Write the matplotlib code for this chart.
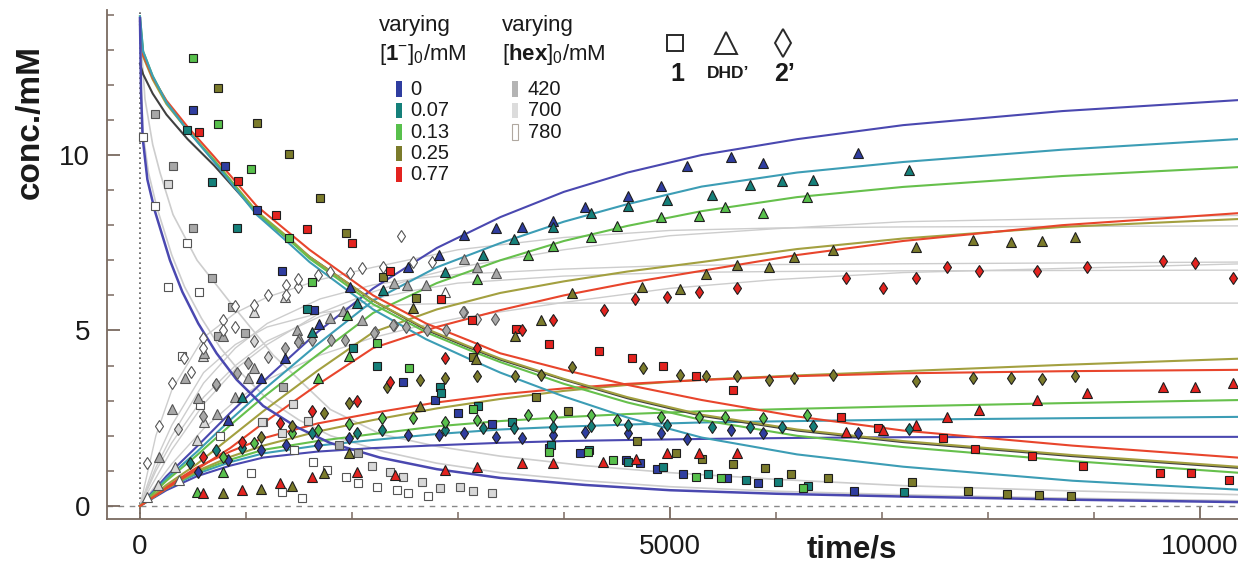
import numpy as np
import matplotlib.pyplot as plt
from matplotlib.lines import Line2D
from matplotlib.patches import Rectangle

plt.rcParams['font.family'] = ['Liberation Sans', 'DejaVu Sans']
plt.rcParams['mathtext.fontset'] = 'custom'
plt.rcParams['mathtext.rm'] = 'Liberation Sans'
plt.rcParams['mathtext.bf'] = 'Liberation Sans:bold'

# ---- data: (time / s, conc / mM) ----
# species 1 (squares)
sq_blue = [(503, 11.28), (802, 9.69), (1100, 8.43), (1336, 6.7), (1644, 5.58), (2478, 3.54), (2783, 3.02),
           (3003, 2.64), (3318, 2.34), (3861, 1.64), (4151, 1.50), (4585, 1.31), (4717, 1.23), (4875, 1.05),
           (5119, 0.90), (5541, 0.79), (5833, 0.66), (6736, 0.44)]
sq_teal = [(446, 10.71), (682, 9.23), (918, 7.91), (1572, 5.61), (2006, 4.49), (2239, 3.99), (2830, 3.40),
           (2841, 3.21), (3192, 2.85), (3507, 2.40), (3880, 1.75), (4240, 1.60), (4600, 1.25), (4937, 1.12),
           (5361, 0.91), (5714, 0.74), (6022, 0.69), (6300, 0.57), (7211, 0.39)]
sq_green = [(503, 12.75), (739, 10.88), (1044, 9.59), (1406, 7.64), (1625, 6.37), (2239, 4.64), (2541, 3.92),
            (3139, 2.75), (3861, 1.55), (4224, 1.55), (4465, 1.31), (5245, 0.83), (5478, 0.79), (6258, 0.50)]
sq_olive = [(739, 11.9), (1100, 10.9), (1406, 10.03), (1698, 8.78), (1940, 7.79), (2295, 6.53), (2601, 5.92),
            (3139, 4.24), (3736, 3.11), (4041, 2.71), (4686, 1.86), (5057, 1.52), (5299, 1.33), (5597, 1.19),
            (5896, 1.07), (6138, 0.91), (6494, 0.79), (7280, 0.68), (7815, 0.42), (8176, 0.34), (8481, 0.31),
            (8780, 0.29)]
sq_red = [(560, 10.66), (921, 9.27), (1280, 8.29), (1578, 7.88), (2003, 7.48), (2358, 6.70), (2837, 5.90),
          (3129, 5.30), (3544, 5.03), (3861, 4.61), (4333, 4.42), (4639, 4.21), (4931, 4.0), (5245, 3.70),
          (5597, 3.30), (6610, 2.53), (6965, 2.21), (7578, 1.93), (7877, 1.62), (8418, 1.42), (8893, 1.14),
          (9623, 0.93), (9912, 0.93), (10274, 0.74)]
sq_g420 = [(141, 11.16), (314, 9.69), (503, 7.91), (676, 6.49), (865, 5.68), (991, 4.92), (739, 4.85),
           (1346, 3.40), (1880, 1.74), (2057, 1.50)]
sq_g700 = [(261, 9.17), (1148, 2.40), (1446, 2.91), (1582, 2.43), (1336, 2.07), (2185, 1.14), (2358, 0.98),
           (2478, 0.83), (2658, 0.69), (2830, 0.50), (3019, 0.55), (3145, 0.44), (3318, 0.36)]
sq_g780 = [(25, 10.52), (141, 8.55), (261, 6.23), (446, 7.5), (560, 6.1), (393, 4.27), (566, 2.88),
           (1163, 2.40), (755, 1.99), (1047, 0.95), (1456, 1.60), (1635, 1.26), (1761, 1.03), (1943, 0.83),
           (2059, 0.66), (1336, 0.41), (1525, 0.24), (2239, 0.55), (2422, 0.46), (2528, 0.37), (2717, 0.28)]

# DHD' (triangles)
tri_blue = [(833, 2.45), (1142, 3.66), (1368, 4.21), (1692, 5.19), (1981, 6.25), (2531, 6.82), (2824, 7.15),
            (3059, 7.72), (3356, 7.91), (3601, 7.94), (3893, 8.13), (4198, 8.51), (4607, 8.83), (4915, 9.13),
            (5158, 9.70), (5575, 9.95), (5880, 9.78), (6777, 10.07)]
tri_teal = [(959, 3.11), (1620, 4.97), (2044, 5.78), (2290, 6.15), (2877, 6.68), (3239, 7.15), (3528, 7.61),
            (3893, 7.94), (4252, 8.34), (4607, 8.55), (4969, 8.72), (5399, 8.86), (5755, 9.15), (6060, 9.27),
            (6352, 9.29), (7258, 9.57)]
tri_green = [(535, 0.41), (786, 0.98), (1682, 3.64), (1950, 5.44), (1975, 4.27), (3176, 6.47), (3664, 7.15),
             (3893, 7.41), (4252, 7.66), (4497, 7.98), (4915, 8.23), (5277, 8.26), (5519, 8.53), (5880, 8.34),
             (6295, 8.80)]
tri_olive = [(786, 0.36), (1142, 0.48), (1437, 0.57), (1736, 0.95), (1975, 1.50), (2642, 2.85), (2578, 5.63),
             (3170, 4.18), (3538, 4.84), (3783, 5.30), (4072, 6.06), (4733, 6.25), (5094, 6.19), (5337, 6.61),
             (5629, 6.87), (5937, 6.82), (6170, 7.09), (6535, 7.29), (7318, 7.37), (7856, 7.58), (8217, 7.53),
             (8512, 7.55), (8821, 7.66)]
tri_red = [(597, 0.36), (959, 0.46), (1321, 0.65), (1620, 0.83), (2044, 0.98), (2406, 0.88), (2877, 1.03),
           (3176, 1.12), (3601, 1.23), (3893, 1.23), (4371, 1.26), (4677, 1.33), (4975, 1.52), (5277, 1.52),
           (5635, 1.52), (6657, 2.12), (7012, 2.17), (7318, 2.31), (7616, 2.53), (7915, 2.74), (8460, 3.02),
           (8937, 3.23), (9654, 3.40), (9953, 3.40), (10314, 3.51)]
tri_g420 = [(182, 1.40), (305, 2.75), (425, 3.64), (604, 4.35), (780, 4.84), (544, 3.07), (730, 2.61),
            (896, 3.11), (1022, 3.64), (1078, 3.92), (1478, 5.01), (1503, 4.78), (1792, 5.35), (1918, 5.56),
            (2098, 5.30), (2396, 6.36), (2522, 6.30), (2698, 6.30), (3056, 7.03), (3176, 6.82), (3359, 6.63)]
tri_g700 = [(173, 0.60), (330, 1.12), (541, 1.88), (604, 2.40), (597, 4.27), (1075, 5.54), (1368, 5.96)]
tri_g780 = [(63, 0.27), (371, 0.74), (2877, 6.11)]

# 2' (diamonds)
dia_blue = [(550, 0.98), (833, 1.31), (1142, 1.60), (1377, 1.74), (1682, 1.74), (1975, 1.93), (2525, 2.02),
            (2824, 2.02), (3059, 2.07), (3356, 1.97), (3601, 1.93), (3893, 2.02), (4198, 2.12), (4607, 2.07),
            (4915, 2.09), (5163, 1.90), (5572, 2.17), (5880, 2.07), (6777, 2.07)]
dia_teal = [(472, 1.22), (717, 1.60), (959, 1.64), (1620, 2.07), (2044, 2.09), (2280, 2.17), (2877, 2.17),
            (3239, 2.21), (3528, 2.21), (3893, 2.26), (4252, 2.28), (4607, 2.31), (4969, 2.31), (5399, 2.24),
            (5755, 2.24), (6060, 2.24), (6352, 2.28), (7258, 2.18)]
dia_green = [(780, 1.40), (1078, 1.80), (1437, 2.07), (1676, 2.17), (1975, 2.34), (2280, 2.50), (2573, 2.50),
             (2877, 2.40), (3176, 2.45), (3664, 2.59), (3893, 2.56), (4252, 2.59), (4497, 2.45), (4915, 2.54),
             (5277, 2.54), (5519, 2.54), (5880, 2.50), (6295, 2.59)]
dia_olive = [(1142, 1.97), (1437, 2.29), (1736, 2.64), (1975, 2.94), (2333, 3.40), (2642, 3.59), (2877, 3.64),
             (3176, 3.69), (3538, 3.70), (3780, 3.73), (4072, 3.97), (4742, 3.92), (5094, 3.73), (5337, 3.69),
             (5629, 3.70), (5937, 3.59), (6170, 3.64), (6535, 3.73), (7318, 3.57), (7856, 3.64), (8217, 3.64),
             (8512, 3.61), (8821, 3.70)]
dia_red = [(597, 1.40), (959, 1.83), (1321, 2.36), (1620, 2.71), (2044, 2.99), (2358, 3.54), (2877, 4.21),
           (3176, 4.49), (3601, 5.01), (3893, 5.30), (4377, 5.58), (4670, 5.89), (4975, 5.96), (5277, 6.11),
           (5635, 6.20), (6657, 6.49), (7012, 6.20), (7318, 6.49), (7610, 6.80), (7915, 6.70), (8460, 6.70),
           (8931, 6.80), (9654, 6.99), (9953, 6.91), (10314, 6.49)]
dia_g420 = [(1368, 4.49), (1493, 4.68), (1620, 4.73), (1799, 4.73), (1934, 4.73), (2211, 4.92), (2390, 5.16),
            (2510, 5.11), (2705, 5.01), (2884, 5.01), (3050, 5.54), (3349, 5.32), (717, 3.47), (597, 2.55),
            (912, 3.78), (1022, 4.08)]
dia_g700 = [(361, 2.18), (717, 3.45), (1204, 4.25), (1078, 4.71), (2217, 4.97), (2396, 5.16), (3176, 5.32),
            (3056, 5.54)]
dia_g780 = [(63, 1.22), (182, 2.29), (299, 3.51), (415, 4.22), (478, 3.83), (597, 4.78), (597, 4.49),
            (786, 5.30), (786, 5.01), (896, 5.11), (896, 5.70), (1078, 5.73), (1204, 6.01), (1377, 6.30),
            (1377, 6.01), (1493, 6.25), (1493, 6.46), (1682, 6.58), (1792, 6.68), (1981, 6.65), (2091, 6.77),
            (2290, 6.82), (2462, 7.69), (2578, 6.96), (2752, 6.96)]

# ---- fitted curves ----
t_decay = [0, 30, 120, 250, 450, 700, 1100, 1400, 1600, 2200, 2700, 3100, 3400, 4000, 4600, 5300, 6200,
           7200, 8800, 10400]
fit1_teal = [13.95, 12.95, 12.25, 11.5, 10.7, 9.8, 8.3, 7.5, 6.95, 5.6, 4.75, 4.2, 3.8, 3.12, 2.52, 1.95,
             1.47, 1.12, 0.72, 0.46]
fit1_green = [13.95, 12.95, 12.25, 11.5, 10.7, 9.85, 8.35, 7.6, 7.05, 5.75, 4.95, 4.45, 4.1, 3.48, 2.95, 2.45,
              2.0, 1.68, 1.28, 0.94]
fit1_olive = [13.7, 12.8, 12.15, 11.45, 10.7, 9.85, 8.4, 7.65, 7.1, 5.85, 5.05, 4.55, 4.2, 3.62, 3.1, 2.6,
              2.18, 1.85, 1.45, 1.11]
fit1_red = [13.8, 12.85, 12.2, 11.55, 10.8, 9.95, 8.55, 7.8, 7.3, 6.0, 5.2, 4.72, 4.35, 3.88, 3.45, 3.02,
            2.55, 2.15, 1.72, 1.37]
fit1_dark = [12.6, 12.3, 11.75, 11.15, 10.45, 9.7, 8.35, 7.6, 7.1, 5.85, 5.02, 4.52, 4.17, 3.6, 3.07, 2.57,
             2.15, 1.82, 1.42, 1.08]
fit1_blue = [(0, 13.9), (10, 11.8), (25, 10.5), (70, 9.3), (141, 8.4), (283, 7.0), (400, 6.1), (550, 5.2),
             (723, 4.35), (912, 3.6), (1163, 2.85), (1478, 2.25), (1792, 1.8), (2264, 1.38), (2800, 1.05),
             (3400, 0.8), (4200, 0.6), (5000, 0.45), (6000, 0.35), (7200, 0.27), (8800, 0.18), (10400, 0.11)]
fit1_grey_fast = [(0, 13.9), (12, 12.0), (30, 10.6), (80, 9.5), (160, 8.5), (300, 7.15), (420, 6.25),
                  (580, 5.35), (760, 4.5), (950, 3.8), (1200, 3.05), (1500, 2.45), (1800, 2.0), (2300, 1.55),
                  (2800, 1.22), (3400, 0.95), (4200, 0.72), (5000, 0.55), (6000, 0.42), (7200, 0.32),
                  (8800, 0.22), (10400, 0.15)]
fit1_grey_mid = [(0, 13.6), (47, 11.6), (120, 10.3), (189, 9.5), (312, 8.3), (539, 7.0), (851, 5.8),
                 (1257, 4.3), (1796, 2.75), (2268, 2.05), (2800, 1.7), (3400, 1.42), (4200, 1.15), (5000, 0.95),
                 (6000, 0.76), (7200, 0.58), (8800, 0.43), (10400, 0.32)]

t_rise = [0, 250, 539, 851, 1163, 1673, 2200, 2800, 3400, 4000, 4600, 5300, 6200, 7200, 8700, 10400]
fitD_blue = [0, 0.85, 1.7, 2.65, 3.55, 4.95, 6.2, 7.35, 8.23, 8.95, 9.5, 10.0, 10.45, 10.85, 11.25, 11.57]
fitD_teal = [0, 0.78, 1.55, 2.45, 3.3, 4.6, 5.85, 6.8, 7.49, 8.1, 8.6, 9.1, 9.5, 9.8, 10.15, 10.46]
fitD_green = [0, 0.72, 1.45, 2.3, 3.1, 4.3, 5.5, 6.35, 7.0, 7.55, 7.98, 8.4, 8.8, 9.09, 9.4, 9.66]
fitD_olive = [0, 0.6, 1.2, 1.95, 2.7, 3.85, 4.95, 5.6, 6.07, 6.4, 6.68, 6.95, 7.32, 7.62, 7.95, 8.18]
fitD_red = [0, 0.5, 1.05, 1.65, 2.36, 3.45, 4.5, 5.1, 5.58, 6.0, 6.35, 6.7, 7.15, 7.55, 8.0, 8.35]
fit2_blue = [0, 0.45, 0.85, 1.15, 1.38, 1.55, 1.65, 1.73, 1.8, 1.85, 1.88, 1.91, 1.94, 1.96, 1.97, 1.97]
fit2_teal = [0, 0.5, 0.92, 1.25, 1.5, 1.72, 1.88, 2.05, 2.18, 2.26, 2.32, 2.38, 2.42, 2.46, 2.5, 2.54]
fit2_green = [0, 0.5, 0.97, 1.32, 1.6, 1.85, 2.05, 2.27, 2.42, 2.53, 2.62, 2.7, 2.77, 2.84, 2.93, 3.02]
fit2_olive = [0, 0.5, 1.0, 1.4, 1.72, 2.12, 2.45, 2.78, 3.05, 3.28, 3.45, 3.6, 3.72, 3.84, 4.02, 4.2]
fit2_red = [0, 0.55, 1.1, 1.55, 1.93, 2.35, 2.65, 2.95, 3.18, 3.35, 3.48, 3.59, 3.7, 3.78, 3.84, 3.88]

t_grey = [0, 150, 300, 600, 900, 1200, 1700, 2200, 2600, 3000, 4000, 5000, 6000, 7200, 10400]
fitG_a = [0, 0.8, 1.6, 2.9, 3.9, 4.6, 5.5, 6.1, 6.5, 6.8, 7.3, 7.7, 7.9, 8.1, 8.28]
fitG_b = [0, 1.1, 2.0, 3.5, 4.5, 5.2, 5.9, 6.3, 6.48, 6.6, 6.75, 6.85, 6.88, 6.9, 6.95]
fitG_c = [0, 1.3, 2.3, 3.8, 4.6, 5.1, 5.5, 5.7, 5.75, 5.77, 5.78, 5.78, 5.78, 5.78, 5.78]
fitG_d = [0, 0.6, 1.2, 2.2, 3.0, 3.6, 4.3, 4.8, 5.1, 5.35, 5.8, 6.2, 6.45, 6.65, 6.9]
fitG_e = [0, 1.0, 1.8, 3.1, 4.0, 4.7, 5.4, 5.9, 6.15, 6.35, 6.55, 6.65, 6.68, 6.7, 6.72]
fitG_f = [0, 2.0, 3.3, 4.8, 5.5, 5.95, 6.45, 6.8, 7.05, 7.3, 7.65, 7.85, 7.92, 7.95, 7.98]

legend_conc = ['0', '0.07', '0.13', '0.25', '0.77']
legend_hex = ['420', '700', '780']

# colours
c_blue, c_teal, c_green, c_olive, c_red = '#2f3da0', '#15807a', '#58c04c', '#7b7b2b', '#e3231f'
l_blue, l_teal, l_green, l_olive, l_red = '#4a48b0', '#3c9db5', '#66c04c', '#a3a040', '#e8452c'
g420, g700, g780 = '#a8a8a8', '#d8d8d8', '#ffffff'
line_grey = '#cdcdcd'
spine_col = '#7a6a60'

fig = plt.figure(figsize=(12.38, 5.65), dpi=100)
ax = fig.add_axes([107 / 1238, 46 / 565, 1 - 107 / 1238, 509 / 565])


def xy(pts):
    a = np.array(pts, dtype=float)
    return a[:, 0], a[:, 1]


# grey fits
for curve in [fitG_a, fitG_b, fitG_c, fitG_d, fitG_e, fitG_f]:
    ax.plot(t_grey, curve, color=line_grey, lw=1.0, zorder=1)
for curve in [fit1_grey_fast, fit1_grey_mid]:
    ax.plot(*xy(curve), color=line_grey, lw=1.2, zorder=1)

# coloured fits
for curve, col in [(fit2_blue, l_blue), (fit2_teal, l_teal), (fit2_green, l_green),
                   (fit2_olive, l_olive), (fit2_red, l_red),
                   (fitD_blue, l_blue), (fitD_teal, l_teal), (fitD_green, l_green),
                   (fitD_olive, l_olive), (fitD_red, l_red)]:
    ax.plot(t_rise, curve, color=col, lw=1.5, zorder=2)
for curve, col in [(fit1_dark, '#404040'), (fit1_olive, l_olive), (fit1_red, l_red),
                   (fit1_green, l_green), (fit1_teal, l_teal)]:
    ax.plot(t_decay, curve, color=col, lw=1.5, zorder=2)
ax.plot(*xy(fit1_blue), color=l_blue, lw=1.8, zorder=2)

# reference lines
ax.axhline(0, color='#888888', lw=1.0, ls=(0, (4, 4)), zorder=0)
ax.axvline(0, color='#555555', lw=1.2, ls=(0, (1, 2)), zorder=0)

# markers
sets = [
    (sq_g780, 's', g780), (sq_g700, 's', g700), (sq_g420, 's', g420),
    (tri_g780, '^', g780), (tri_g700, '^', g700), (tri_g420, '^', g420),
    (dia_g780, 'd', g780), (dia_g700, 'd', g700), (dia_g420, 'd', g420),
    (sq_blue, 's', c_blue), (sq_teal, 's', c_teal), (sq_green, 's', c_green),
    (sq_olive, 's', c_olive), (sq_red, 's', c_red),
    (tri_blue, '^', c_blue), (tri_teal, '^', c_teal), (tri_green, '^', c_green),
    (tri_olive, '^', c_olive), (tri_red, '^', c_red),
    (dia_blue, 'd', c_blue), (dia_teal, 'd', c_teal), (dia_green, 'd', c_green),
    (dia_olive, 'd', c_olive), (dia_red, 'd', c_red),
]
ms = {'s': 5.8, '^': 7.2, 'd': 6.6}
for pts, mk, col in sets:
    t, c = xy(pts)
    edge = '#555555' if col in (g780, g700, g420) else '#1e1e1e'
    ax.plot(t, c, ls='none', marker=mk, ms=ms[mk], mfc=col, mec=edge, mew=0.8, zorder=3)

# axes styling
ax.set_xlim(-311, 10360)
ax.set_ylim(-0.37, 14.13)
for s in ['top', 'right']:
    ax.spines[s].set_visible(False)
for s in ['left', 'bottom']:
    ax.spines[s].set_color(spine_col)
    ax.spines[s].set_linewidth(1.3)
ax.set_xticks([0, 5000, 10000])
ax.set_xticks(np.arange(1000, 10001, 1000), minor=True)
ax.set_yticks([0, 5, 10])
ax.set_yticks(np.arange(1, 15, 1), minor=True)
ax.tick_params(which='major', direction='in', length=9, width=1.3, color=spine_col,
               labelsize=20, labelcolor='#1a1a1a')
ax.tick_params(axis='x', which='major', pad=11)
ax.tick_params(axis='y', which='major', pad=12)
ax.tick_params(which='minor', direction='in', length=5, width=1.1, color=spine_col)

fig.text(30 / 1238, 1 - 122 / 565, 'conc./mM', rotation=90, ha='center', va='center',
         fontsize=24, fontweight='bold', color='#1a1a1a')
fig.text(807 / 1238, 1 - 557 / 565, 'time/s', ha='left', va='baseline',
         fontsize=22.5, fontweight='bold', color='#1a1a1a')


def fp(x, y):
    return x / 1238, 1 - y / 565


# legend: [1-]0
fig.text(*fp(379, 31), 'varying', fontsize=16, va='baseline', color='#1a1a1a')
fig.text(*fp(379, 60), r'$[\mathbf{1}^{-}]_0$/mM', fontsize=16, va='baseline', color='#1a1a1a')
for i, (lab, col) in enumerate(zip(legend_conc, [c_blue, c_teal, c_green, c_olive, c_red])):
    yc = 89 + 21.5 * i
    fig.add_artist(Rectangle(fp(396, yc + 7.5), 6 / 1238, 15 / 565, transform=fig.transFigure,
                             facecolor=col, edgecolor='none'))
    fig.text(*fp(410, yc), lab, fontsize=14.5, va='center', color='#1a1a1a')

# legend: [hex]0
fig.text(*fp(502, 31), 'varying', fontsize=16, va='baseline', color='#1a1a1a')
fig.text(*fp(502, 60), r'$[\mathbf{hex}]_0$/mM', fontsize=16, va='baseline', color='#1a1a1a')
for i, (lab, col) in enumerate(zip(legend_hex, ['#b4b4b4', '#dcdcdc', '#ffffff'])):
    yc = 89 + 21.5 * i
    fig.add_artist(Rectangle(fp(512, yc + 7.5), 6 / 1238, 15 / 565, transform=fig.transFigure,
                             facecolor=col, edgecolor='#b0a8a0' if col == '#ffffff' else 'none', lw=0.8))
    fig.text(*fp(528, yc), lab, fontsize=14.5, va='center', color='#1a1a1a')

# legend: species symbols
for (x, mk, size), lab, fs in zip([(675, 's', 12), (726, '^', 16), (783, 'd', 14)],
                                  ['1', 'DHD\u2019', '2\u2019'], [18, 12.5, 18]):
    fx, fy = fp(x, 43)
    fig.add_artist(Line2D([fx], [fy], transform=fig.transFigure, marker=mk, ms=size,
                          mfc='white', mec='#2a2a2a', mew=1.4, ls='none'))
    fig.text(*fp(x + 2, 74), lab, fontsize=fs, fontweight='bold', ha='center', va='center',
             color='#1a1a1a')

fig.savefig('out.png', dpi=100)
